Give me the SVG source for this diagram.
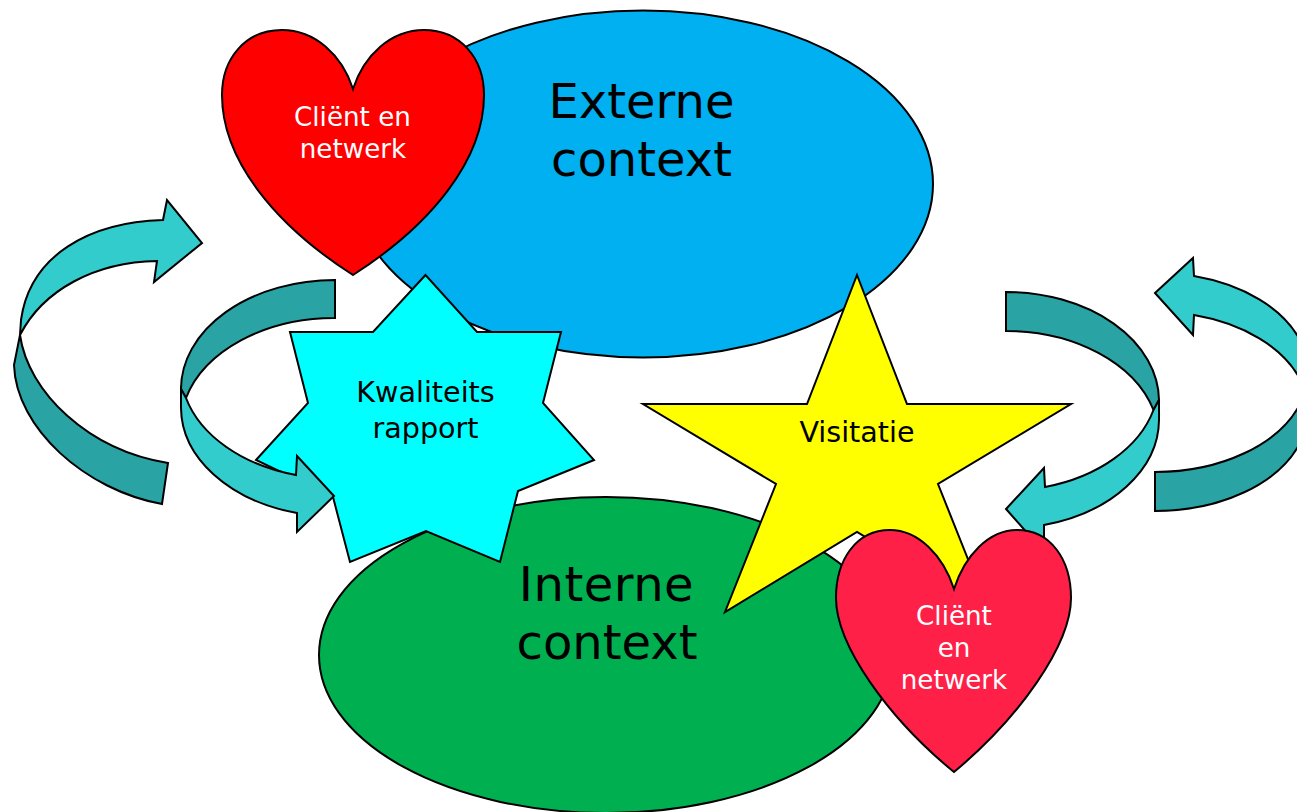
<svg xmlns="http://www.w3.org/2000/svg" width="1297" height="812" viewBox="0 0 1297 812">
<style>
text{font-family:"DejaVu Sans",Verdana,sans-serif;text-anchor:middle;fill:#000}
.s{stroke:#000;stroke-width:2;stroke-linejoin:miter}
.big{font-size:48px}
.mid{font-size:28.6px}
.w{font-size:26.2px;fill:#fff}
.l{fill:#33CCCC}
.d{fill:#29A3A3}
</style>
<rect width="1297" height="812" fill="#fff"/>
<g id="externe-context">
<ellipse class="s" cx="643" cy="184" rx="290" ry="173.500" fill="#00B0F0"/>
<text class="big" x="641.500" y="118">Externe</text>
<text class="big" x="641.500" y="176">context</text>
</g>
<g id="interne-context">
<ellipse class="s" cx="606" cy="655" rx="287" ry="158" fill="#00AF50"/>
<text class="big" x="606.500" y="601" letter-spacing="0.500">Interne</text>
<text class="big" x="607" y="659">context</text>
</g>
<g id="kwaliteitsrapport">
<polygon class="s" fill="#00FFFF" points="425.500,275 373,332 290,332 308,403 256,460 333,497 350,562 426,531 500,562 518,491 594,460 543,403 561,332 477,332"/>
<text class="mid" x="425.500" y="402">Kwaliteits</text>
<text class="mid" x="425.500" y="438">rapport</text>
</g>
<g id="visitatie">
<polygon class="s" fill="#FFFF00" points="857,275 907,404 1071,404 938,484 989,612 857,532 725,612 776,484 643,404 807,404"/>
<text class="mid" x="857" y="442">Visitatie</text>
</g>
<g id="connectors">
<path class="s d" d="M20,335 L14,365 C16,428 85,490 162,504 L168,463 C88,450 28,392 20,335 Z"/>
<path class="s l" d="M20,335 L21,320 C30,255 90,222 163,220 L167,200 L202,243 L154,282 L157,261 C95,262 43,290 20,335 Z"/>
<path class="s d" d="M335,280 A154,109 0 0 0 181,389 L186,398 A154,109 0 0 1 335,318 Z"/>
<path class="s l" d="M186,398 L181,389 L181,408 A154,109 0 0 0 297,513 L297,532 L334,496 L297,456 L296,475 A154,109 0 0 1 186,398 Z"/>
<path class="s d" d="M1006,292 A153,109 0 0 1 1159,400 L1153.500,410 A153,109 0 0 0 1006,331 Z"/>
<path class="s l" d="M1153.500,410 L1159,400 L1159,420 A153,109 0 0 1 1044,525 L1044,552 L1006,509 L1044,468 L1045,487 A153,109 0 0 0 1153.500,410 Z"/>
<path class="s d" d="M1155,472 A153,100 0 0 0 1300,404 L1300,443 A153,100 0 0 1 1155,511 Z"/>
<path class="s l" d="M1155,293 L1193,258 L1194,276 A153,100 0 0 1 1300,340 L1300,379 A153,100 0 0 0 1194,315 L1193,335 Z"/>
</g>
<g id="client-netwerk-1">
<path class="s" fill="#FF0000" d="M353,89 C342,55 315,30 282,30 C246,30 222,58 222,95 C222,160 275,225 353,275 C431,225 484,160 484,95 C484,58 460,30 424,30 C391,30 364,55 353,89 Z"/>
<text class="w" x="352.500" y="126">Cliënt en</text>
<text class="w" x="353" y="158">netwerk</text>
</g>
<g id="client-netwerk-2">
<path class="s" fill="#FF2047" d="M954,589 C943,555 918,530 890,530 C856,530 836,560 836,598 C836,645 888,718 954,772 C1019,718 1071,645 1071,598 C1071,560 1051,530 1017,530 C989,530 965,555 954,589 Z"/>
<text class="w" x="954" y="625">Cliënt</text>
<text class="w" x="954" y="657">en</text>
<text class="w" x="954" y="689">netwerk</text>
</g>
</svg>
